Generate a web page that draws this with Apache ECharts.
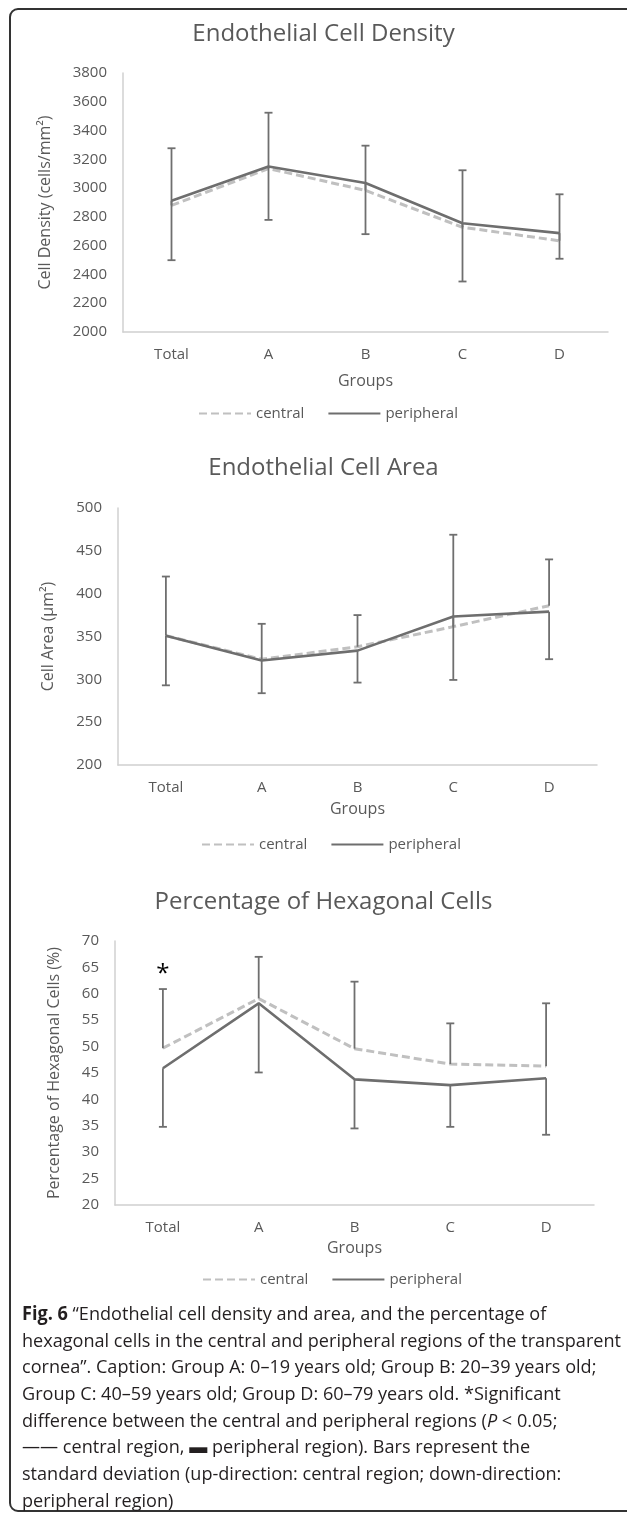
<!DOCTYPE html>
<html>
<head>
<meta charset="utf-8">
<script src="https://cdn.jsdelivr.net/npm/echarts@6/dist/echarts.min.js"></script>
<style>
  body { margin: 0; background: #fff; }
  #frame { position: absolute; left: 9px; top: 8px; width: 640px; height: 1504px;
           border: 2px solid #333; border-radius: 9px; box-sizing: border-box; }
  #main { position: absolute; left: 0; top: 0; width: 627px; height: 1516px; }
  #caption { position: absolute; left: 22px; top: 1300px; font-family: "Open Sans", sans-serif;
             font-size: 19px; line-height: 26.67px; color: #231f20; transform-origin: 0 0; white-space: nowrap; }
  #caption div { display: block; }
  #caption span.l { display: inline-block; }
</style>
</head>
<body>
<div id="frame"></div>
<div id="main"></div>
<div id="caption">
  <div><span class="l"><b>Fig. 6</b> “Endothelial cell density and area, and the percentage of</span></div>
  <div><span class="l" id="refLine">hexagonal cells in the central and peripheral regions of the transparent</span></div>
  <div><span class="l">cornea”. Caption: Group A: 0–19 years old; Group B: 20–39 years old;</span></div>
  <div><span class="l">Group C: 40–59 years old; Group D: 60–79 years old. *Significant</span></div>
  <div><span class="l">difference between the central and peripheral regions (<i>P</i> &lt; 0.05;</span></div>
  <div><span class="l">—— central region, ▬ peripheral region). Bars represent the</span></div>
  <div><span class="l">standard deviation (up-direction: central region; down-direction:</span></div>
  <div><span class="l">peripheral region)</span></div>
</div>
<script>
// groups on the x axis
const groups = ['Total', 'A', 'B', 'C', 'D'];

// endothelial cell density (cells/mm2)
const densityCentral = [2880, 3136, 2984, 2728, 2634];
const densityCentralSD = [397, 388, 311, 396, 323];
const densityPeripheral = [2912, 3150, 3035, 2756, 2687];
const densityPeripheralSD = [413, 371, 355, 405, 178];

// endothelial cell area (um2)
const areaCentral = [351, 323.5, 338, 361.5, 386];
const areaCentralSD = [69, 41.3, 37, 107.3, 54];
const areaPeripheral = [351, 322, 333.5, 373.3, 379];
const areaPeripheralSD = [58, 38.2, 37.3, 74, 55.5];

// percentage of hexagonal cells
const hexCentral = [49.7, 59.1, 49.6, 46.7, 46.3];
const hexCentralSD = [11.2, 7.9, 12.7, 7.7, 11.9];
const hexPeripheral = [45.9, 58.2, 43.8, 42.7, 44.0];
const hexPeripheralSD = [11.1, 13.1, 9.3, 7.9, 10.7];
const hexSignificant = [true, false, false, false, false];

const TXT = '#595959';
const FONT = '"Open Sans", sans-serif';

const panels = [
  { title: 'Endothelial Cell Density', yName: 'Cell Density (cells/mm²)', min: 2000, max: 3800, interval: 200,
    grid: { left: 123, top: 73, width: 485, height: 259 }, titleTop: 22, legendTop: 406, legendLeft: 198,
    nameGap: 70, groupsGap: 41,
    c: densityCentral, cSD: densityCentralSD, p: densityPeripheral, pSD: densityPeripheralSD },
  { title: 'Endothelial Cell Area', yName: 'Cell Area (μm²)', min: 200, max: 500, interval: 50,
    grid: { left: 118, top: 508, width: 479, height: 257 }, titleTop: 456, legendTop: 837, legendLeft: 201,
    nameGap: 62, groupsGap: 36,
    c: areaCentral, cSD: areaCentralSD, p: areaPeripheral, pSD: areaPeripheralSD },
  { title: 'Percentage of Hexagonal Cells', yName: 'Percentage of Hexagonal Cells (%)', min: 20, max: 70, interval: 5,
    grid: { left: 115, top: 941, width: 479, height: 264 }, titleTop: 890, legendTop: 1272, legendLeft: 202,
    nameGap: 53, groupsGap: 35,
    c: hexCentral, cSD: hexCentralSD, p: hexPeripheral, pSD: hexPeripheralSD, sig: hexSignificant }
];

function errorBars(idx, mean, sd, dir) {
  return {
    type: 'custom', xAxisIndex: idx, yAxisIndex: idx, silent: true, z: 5,
    encode: { x: 0, y: 1 },
    data: mean.map((m, i) => [i, m, m + dir * sd[i]]),
    renderItem: function (params, api) {
      const a = api.coord([api.value(0), api.value(1)]);
      const b = api.coord([api.value(0), api.value(2)]);
      const st = { stroke: '#6f6f6f', lineWidth: 1.8 };
      return { type: 'group', children: [
        { type: 'line', shape: { x1: a[0], y1: a[1], x2: b[0], y2: b[1] }, style: st },
        { type: 'line', shape: { x1: b[0] - 4, y1: b[1], x2: b[0] + 4, y2: b[1] }, style: st }
      ] };
    }
  };
}

const option = {
  animation: false,
  textStyle: { fontFamily: FONT },
  title: [], legend: [], grid: [], xAxis: [], yAxis: [], series: []
};

panels.forEach((pn, k) => {
  option.title.push({ text: pn.title, left: 323.5, textAlign: 'center', top: pn.titleTop, padding: 0,
    textStyle: { fontFamily: FONT, fontSize: 24, fontWeight: 'normal', color: TXT } });
  option.legend.push({ data: ['central', 'peripheral'], left: pn.legendLeft, top: pn.legendTop, padding: 0,
    itemWidth: 52, itemHeight: 14, itemGap: 23,
    itemStyle: { opacity: 0 },
    textStyle: { fontFamily: FONT, fontSize: 15, color: TXT } });
  option.grid.push(Object.assign({ containLabel: false }, pn.grid));
  option.xAxis.push({ type: 'category', gridIndex: k, data: groups, boundaryGap: true,
    name: 'Groups', nameLocation: 'middle', nameGap: pn.groupsGap,
    nameTextStyle: { fontFamily: FONT, fontSize: 16, color: TXT },
    axisLine: { lineStyle: { color: '#d0d0d0', width: 1.5 } }, axisTick: { show: false },
    axisLabel: { fontFamily: FONT, fontSize: 15, color: TXT, margin: 15 } });
  option.yAxis.push({ type: 'value', gridIndex: k, min: pn.min, max: pn.max, interval: pn.interval,
    name: pn.yName, nameLocation: 'middle', nameGap: pn.nameGap,
    nameTextStyle: { fontFamily: FONT, fontSize: 16, color: TXT },
    axisLine: { show: true, lineStyle: { color: '#d0d0d0', width: 1.5 } }, axisTick: { show: false },
    splitLine: { show: false },
    axisLabel: { fontFamily: FONT, fontSize: 15, color: TXT, margin: 16, formatter: v => String(v) } });
  const central = { name: 'central', type: 'line', xAxisIndex: k, yAxisIndex: k, data: pn.c,
    symbol: 'none', z: 2, lineStyle: { color: '#c0c0c0', width: 3, type: [8, 4] }, itemStyle: { color: '#c0c0c0' } };
  if (pn.sig) {
    central.markPoint = { symbol: 'circle', symbolSize: 0, silent: true,
      data: pn.sig.map((s, i) => s ? { coord: [i, pn.c[i] + pn.cSD[i] + 2.8] } : null).filter(Boolean),
      label: { show: true, position: 'inside', formatter: '*', color: '#000', fontSize: 24, fontFamily: FONT } };
  }
  option.series.push(central);
  option.series.push({ name: 'peripheral', type: 'line', xAxisIndex: k, yAxisIndex: k, data: pn.p,
    symbol: 'none', z: 3, lineStyle: { color: '#6e6e6e', width: 2.6 }, itemStyle: { color: '#6e6e6e' } });
  option.series.push(errorBars(k, pn.c, pn.cSD, 1));
  option.series.push(errorBars(k, pn.p, pn.pSD, -1));
});

const chart = echarts.init(document.getElementById('main'));
chart.setOption(option);

// squeeze caption to the column width of the printed figure
const cap = document.getElementById('caption');
const w = document.getElementById('refLine').getBoundingClientRect().width;
cap.style.transform = 'scaleX(' + (599 / w) + ')';
</script>
</body>
</html>
